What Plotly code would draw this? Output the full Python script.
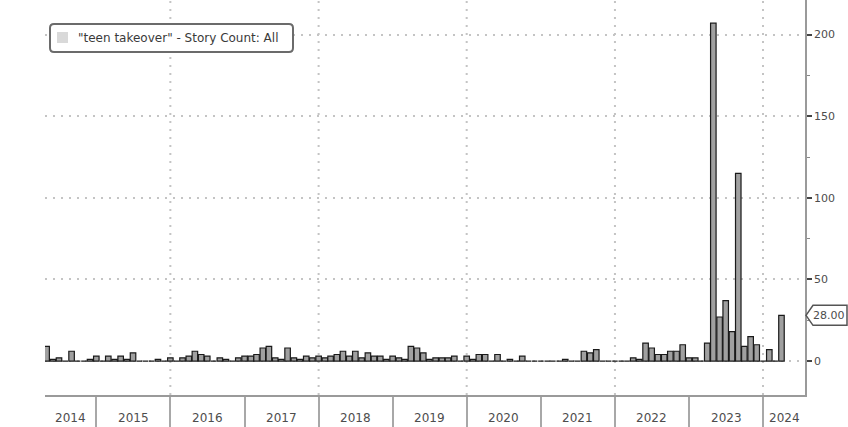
import pandas as pd
import plotly.graph_objects as go

# ---- data -----------------------------------------------------------------
first_month = "2014-04"
last_month = "2024-03"
v2014 = [9, 1, 2, 0, 6, 0, 0, 1, 3]            # Apr-Dec
v2015 = [0, 3, 1, 3, 1, 5, 0, 0, 0, 1, 0, 2]
v2016 = [0, 2, 3, 6, 4, 3, 0, 2, 1, 0, 2, 3]
v2017 = [3, 4, 8, 9, 2, 1, 8, 2, 1, 3, 2, 3]
v2018 = [2, 3, 4, 6, 3, 6, 2, 5, 3, 3, 1, 3]
v2019 = [2, 1, 9, 8, 5, 1, 2, 2, 2, 3, 0, 3]
v2020 = [1, 4, 4, 0, 4, 0, 1, 0, 3, 0, 0, 0]
v2021 = [0, 0, 0, 1, 0, 0, 6, 5, 7, 0, 0, 0]
v2022 = [0, 0, 2, 1, 11, 8, 4, 4, 6, 6, 10, 2]
v2023 = [2, 0, 11, 207, 27, 37, 18, 115, 9, 15, 10, 0]
v2024 = [7, 0, 28]                              # Jan-Mar

year_labels = ["2014", "2015", "2016", "2017", "2018", "2019",
               "2020", "2021", "2022", "2023", "2024"]
y_ticks = [0, 50, 100, 150, 200]
series_name = '"teen takeover" - Story Count: All'

values = v2014 + v2015 + v2016 + v2017 + v2018 + v2019 + v2020 + v2021 + v2022 + v2023 + v2024
months = [p.strftime("%Y-%m-01") for p in pd.period_range(first_month, last_month, freq="M")]

x_start = "2014-04-23"
x_end = "2024-07-26"
y_range = [-20.8, 221.2]

# ---- figure ---------------------------------------------------------------
FONT = "DejaVu Sans"
TXT = "#4d4d4d"
GRID = "#c4c4c4"

fig = go.Figure()
fig.add_trace(go.Bar(
    x=months, y=values,
    xperiod="M1", xperiodalignment="end",
    marker=dict(color="#a0a0a0", line=dict(color="#1a1a1a", width=1.2)),
    showlegend=False, hoverinfo="x+y",
))

# dotted vertical grid every two years
for yl in year_labels:
    if int(yl) % 2 == 0 and int(yl) > 2014:
        fig.add_shape(type="line", xref="x", yref="paper",
                      x0=f"{yl}-01-01", x1=f"{yl}-01-01", y0=0, y1=1,
                      line=dict(color=GRID, width=2, dash="2px,6px"), layer="below")

# year labels centred in the visible part of each year
t0, t1 = pd.Timestamp(x_start), pd.Timestamp(x_end)
for yl in year_labels:
    a = max(pd.Timestamp(f"{yl}-01-01"), t0)
    b = min(pd.Timestamp(f"{int(yl)+1}-01-01"), t1)
    mid = a + (b - a) / 2
    fig.add_annotation(x=mid, xref="x", y=0, yref="paper", yshift=-23,
                       text=yl, showarrow=False, yanchor="middle",
                       font=dict(family=FONT, size=12, color=TXT))

# legend box (rounded) + symbol + text
r = 4
L, R, T, B = 5, 248, -24, -52
box = (f"M{L+r},{T} L{R-r},{T} Q{R},{T} {R},{T-r} L{R},{B+r} Q{R},{B} {R-r},{B} "
       f"L{L+r},{B} Q{L},{B} {L},{B+r} L{L},{T-r} Q{L},{T} {L+r},{T} Z")
fig.add_shape(type="path", xref="paper", yref="paper", xsizemode="pixel", ysizemode="pixel",
              xanchor=0, yanchor=1, path=box,
              fillcolor="white", line=dict(color="#6b6b6b", width=2), layer="above")
fig.add_shape(type="rect", xref="paper", yref="paper", xsizemode="pixel", ysizemode="pixel",
              xanchor=0, yanchor=1, x0=12, x1=23, y0=-32, y1=-43,
              fillcolor="#d9d9d9", line=dict(width=0), layer="above")
fig.add_annotation(x=0, xref="paper", y=1, yref="paper", xshift=31, yshift=-38,
                   xanchor="left", yanchor="middle", showarrow=False, text=series_name,
                   font=dict(family=FONT, size=12, color="#3a3a3a"))

# last-value callout on the right axis
last_val = values[-1]
fig.add_shape(type="path", xref="paper", yref="y", xsizemode="pixel", ysizemode="pixel",
              xanchor=1, yanchor=last_val,
              path="M1,0 L8,10 L42,10 L42,-10 L8,-10 Z",
              fillcolor="white", line=dict(color="#555555", width=1.5), layer="above")
fig.add_annotation(x=1, xref="paper", y=last_val, yref="y", xshift=24,
                   text=f"{last_val:.2f}", showarrow=False, xanchor="center", yanchor="middle",
                   font=dict(family=FONT, size=11, color=TXT))

fig.update_layout(
    width=848, height=427,
    margin=dict(l=45, r=43, t=0, b=32),
    paper_bgcolor="white", plot_bgcolor="white",
    bargap=0.03,
    showlegend=False,
    font=dict(family=FONT, size=11, color=TXT),
    xaxis=dict(
        type="date", range=[x_start, x_end],
        showgrid=False, zeroline=False,
        showline=True, linecolor="#9a9a9a", linewidth=1.5,
        tickmode="array", tickvals=[f"{y}-01-01" for y in year_labels],
        ticks="outside", ticklen=32, tickwidth=1.5, tickcolor="#a8a8a8",
        showticklabels=False,
    ),
    yaxis=dict(
        side="right", range=y_range,
        tickmode="array", tickvals=y_ticks,
        showgrid=True, gridcolor=GRID, gridwidth=2, griddash="2px,6px",
        zeroline=False,
        showline=True, linecolor="#9a9a9a", linewidth=1.5,
        ticks="outside", ticklen=5, tickwidth=2, tickcolor="#444444",
        minor=dict(tickvals=[25, 75, 125, 175], ticks="outside", ticklen=3,
                   tickwidth=1, tickcolor="#888888", showgrid=False),
        tickfont=dict(family=FONT, size=11, color=TXT),
    ),
)

fig.write_html("out.html", config={"displayModeBar": False},
               post_script="document.body.style.margin='0';document.body.style.overflow='hidden';")
